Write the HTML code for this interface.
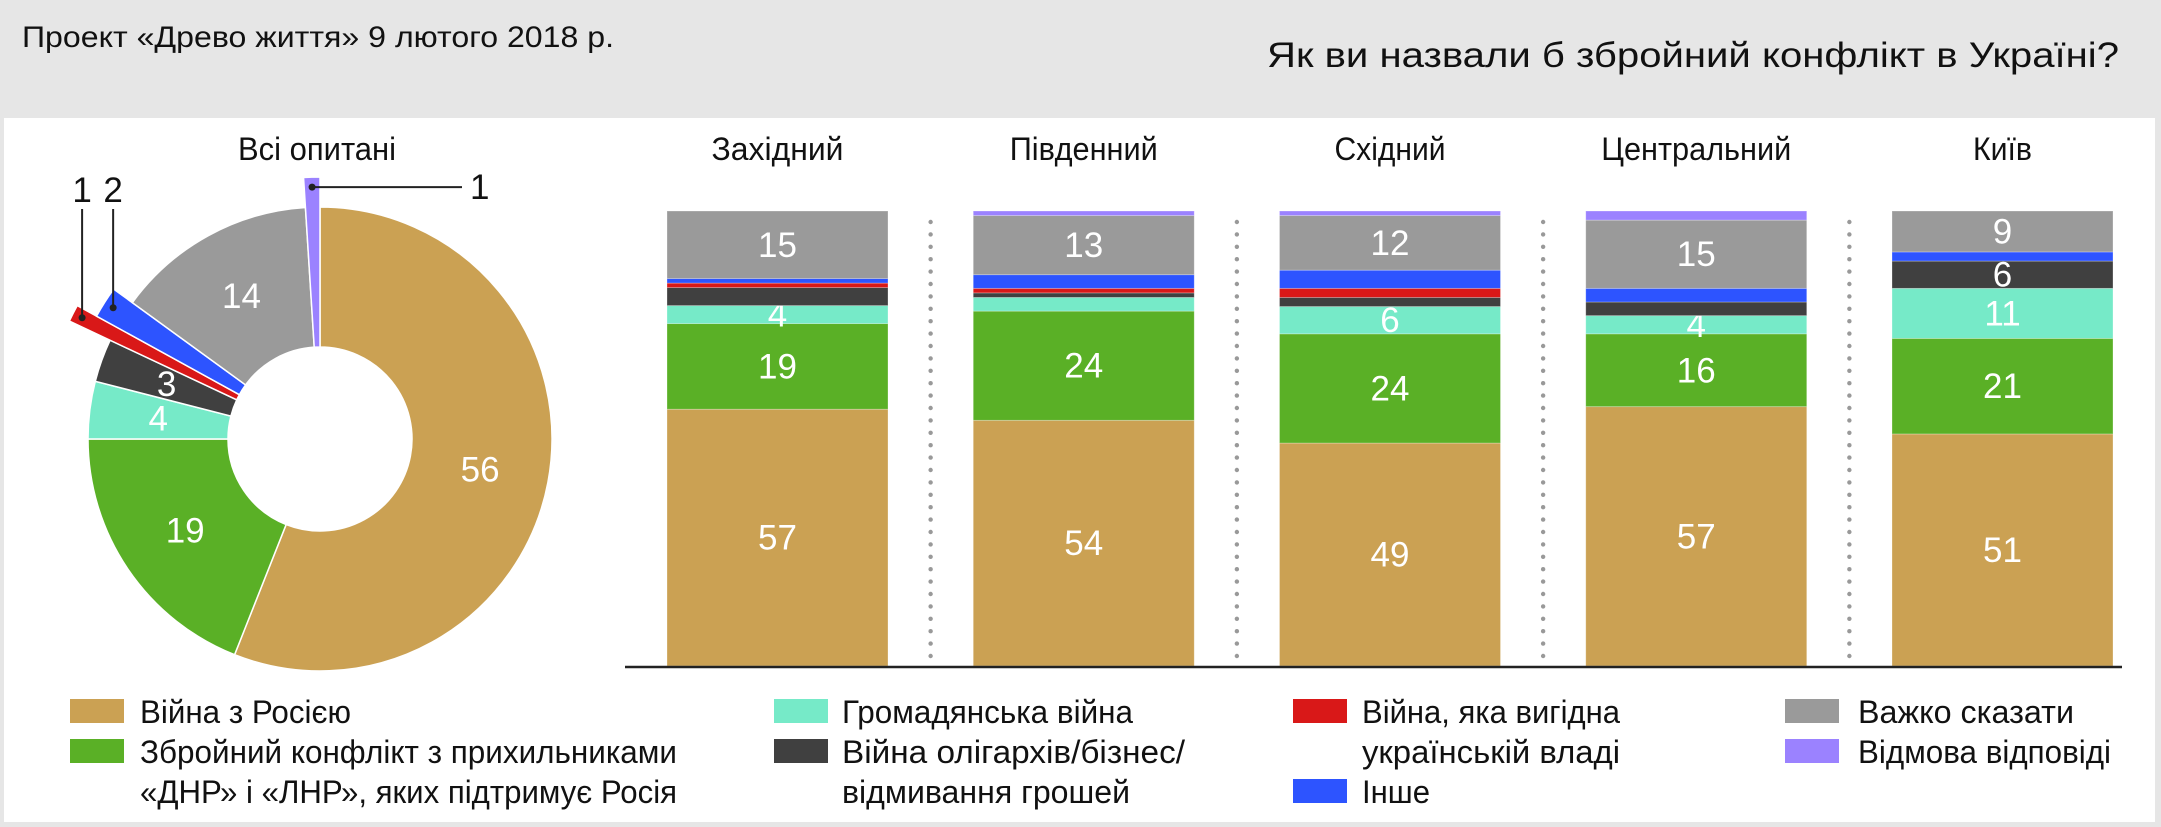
<!DOCTYPE html>
<html><head><meta charset="utf-8">
<style>
html,body{margin:0;padding:0;background:#e6e6e6;}
svg{display:block;}
text{font-family:"Liberation Sans","DejaVu Sans",sans-serif;}
</style></head>
<body>
<svg id="chart" width="2161" height="827" viewBox="0 0 2161 827" xmlns="http://www.w3.org/2000/svg">
  <rect x="0" y="0" width="2161" height="827" fill="#e6e6e6"/>
  <rect x="4" y="118" width="2151" height="704" fill="#ffffff"/>
  <text x="22" y="47" font-size="30" fill="#111" textLength="592" lengthAdjust="spacingAndGlyphs">Проект «Древо життя» 9 лютого 2018 р.</text>
  <text x="2119" y="67" font-size="35" fill="#111" text-anchor="end" textLength="852" lengthAdjust="spacingAndGlyphs">Як ви назвали б збройний конфлікт в Україні?</text>
  <text x="317" y="160" font-size="32" fill="#111" text-anchor="middle" textLength="158" lengthAdjust="spacingAndGlyphs">Всі опитані</text>
  <g id="donut"></g>
  <g id="bars"></g>
  <g id="legend"></g>
</svg>
<script>
const seriesNames = ["Війна з Росією","Зброй конфлікт","Громадянська війна","Війна олігархів","Війна, яка вигідна владі","Інше","Важко сказати","Відмова відповіді"];
const seriesColors = ["#cba153","#5ab026","#76eac8","#404040","#d91818","#2d54ff","#9a9a9a","#9b82ff"];
const donutValues = [56,19,4,3,1,2,14,1];
const regions = ["Західний","Південний","Східний","Центральний","Київ"];
const regionWidths = [132,148,111,190,59];
const warRussia = [57,54,49,57,51];
const armedConflict = [19,24,24,16,21];
const civilWar = [4,3,6,4,11];
const oligarchWar = [4,1,2,3,6];
const beneficialWar = [1,1,2,0,0];
const otherAnswer = [1,3,4,3,2];
const hardToSay = [15,13,12,15,9];
const refused = [0,1,1,2,0];

const NS = "http://www.w3.org/2000/svg";
function mk(tag, attrs, parent){ const e=document.createElementNS(NS,tag); for(const k in attrs) e.setAttribute(k,attrs[k]); parent.appendChild(e); return e; }

// ---- Donut
const donut = document.getElementById('donut');
const cx=320, cy=439, R=232, r0=92;
const explode = [0,0,0,0,277,255,0,262];
const total = donutValues.reduce((a,b)=>a+b,0);
function pt(rad, ang){ return [cx+rad*Math.sin(ang), cy-rad*Math.cos(ang)]; }
let acc=0;
donutValues.forEach((v,i)=>{
  const a0=acc/total*2*Math.PI, a1=(acc+v)/total*2*Math.PI; acc+=v;
  const Ro = explode[i]||R;
  const p0=pt(Ro,a0), p1=pt(Ro,a1), q1=pt(r0,a1), q0=pt(r0,a0);
  const large=(a1-a0)>Math.PI?1:0;
  const d=`M${p0[0]},${p0[1]} A${Ro},${Ro} 0 ${large} 1 ${p1[0]},${p1[1]} L${q1[0]},${q1[1]} A${r0},${r0} 0 ${large} 0 ${q0[0]},${q0[1]} Z`;
  const s=mk('path',{d:d,fill:seriesColors[i],stroke:'#fff','stroke-width':1.5},donut);
  
  
  const am=(a0+a1)/2;
  if(v>=3){
    const lp=pt(163,am);
    const t=mk('text',{x:lp[0],y:lp[1]+12,'font-size':35,fill:'#fff','text-anchor':'middle'},donut);
    t.textContent=v;
    
    
  } else {
    const dp=pt(Ro-10,am);
    mk('circle',{cx:dp[0],cy:dp[1],r:3.5,fill:'#222'},donut);
    let lx, ly, tx, ty, anchor='middle';
    if(dp[0] < cx-50){
      lx=dp[0]; ly=209; tx=dp[0]; ty=202;
      mk('line',{x1:dp[0],y1:dp[1],x2:lx,y2:ly,stroke:'#222','stroke-width':2},donut);
    } else {
      mk('line',{x1:dp[0],y1:dp[1],x2:462,y2:dp[1],stroke:'#222','stroke-width':2},donut);
      tx=470; ty=dp[1]+12; anchor='start';
    }
    const t=mk('text',{x:tx,y:ty,'font-size':35,fill:'#111','text-anchor':anchor},donut);
    t.textContent=v;
    
    
  }
});

// ---- Bars
const bars=document.getElementById('bars');
const series=[warRussia,armedConflict,civilWar,oligarchWar,beneficialWar,otherAnswer,hardToSay,refused];
const barX0=667, barStep=306.25, barW=221, baseY=666, topY=211;
const plotH=baseY-topY;
regions.forEach((reg,b)=>{
  const x=barX0+b*barStep;
  const h=mk('text',{x:x+barW/2,y:160,'font-size':32,fill:'#111','text-anchor':'middle',textLength:regionWidths[b],lengthAdjust:'spacingAndGlyphs'},bars);
  h.textContent=reg;
  
  
  const sum=series.reduce((a,s)=>a+s[b],0);
  let y=baseY;
  series.forEach((s,i)=>{
    const v=s[b]; if(v<=0) return;
    const hh=v/sum*plotH;
    y-=hh;
    const rc=mk('rect',{x:x,y:y,width:barW,height:hh,fill:seriesColors[i],stroke:'rgba(255,255,255,0.35)','stroke-width':0.8},bars);
    
    
    const show = (i===0||i===1||i===2||i===6) ? v>=4 : (i===3 ? v>=5 : false);
    if(show){
      const t=mk('text',{x:x+barW/2,y:y+hh/2+12,'font-size':35,fill:'#fff','text-anchor':'middle'},bars);
      t.textContent=v;
      
      
    }
  });
  if(b<regions.length-1){
    const dx=x+barW+(barStep-barW)/2;
    for(let dy=222; dy<=658; dy+=12.4){
      mk('circle',{cx:dx,cy:dy,r:2.2,fill:'#999'},bars);
    }
  }
});
const ax=mk('line',{x1:625,y1:667,x2:2122,y2:667,stroke:'#222','stroke-width':2.5},bars);



// ---- Legend
const legend=document.getElementById('legend');
const legendItems=[
  {c:0,sx:70,tx:140,row:0,lines:[["Війна з Росією",211]]},
  {c:1,sx:70,tx:140,row:1,lines:[["Збройний конфлікт з прихильниками",537],["«ДНР» і «ЛНР», яких підтримує Росія",537]]},
  {c:2,sx:774,tx:842,row:0,lines:[["Громадянська війна",291]]},
  {c:3,sx:774,tx:842,row:1,lines:[["Війна олігархів/бізнес/",343],["відмивання грошей",288]]},
  {c:4,sx:1293,tx:1362,row:0,lines:[["Війна, яка вигідна",258],["українській владі",258]]},
  {c:5,sx:1293,tx:1362,row:2,lines:[["Інше",68]]},
  {c:6,sx:1785,tx:1858,row:0,lines:[["Важко сказати",216]]},
  {c:7,sx:1785,tx:1858,row:1,lines:[["Відмова відповіді",253]]}
];
legendItems.forEach(it=>{
  const y0=699+it.row*40;
  const sw=mk('rect',{x:it.sx,y:y0,width:54,height:24,fill:seriesColors[it.c]},legend);
  
  
  it.lines.forEach((ln,k)=>{
    const t=mk('text',{x:it.tx,y:723+(it.row+k)*40,'font-size':32,fill:'#111',textLength:ln[1],lengthAdjust:'spacingAndGlyphs'},legend);
    t.textContent=ln[0];
    
    
  });
});
</script>
</body></html>
